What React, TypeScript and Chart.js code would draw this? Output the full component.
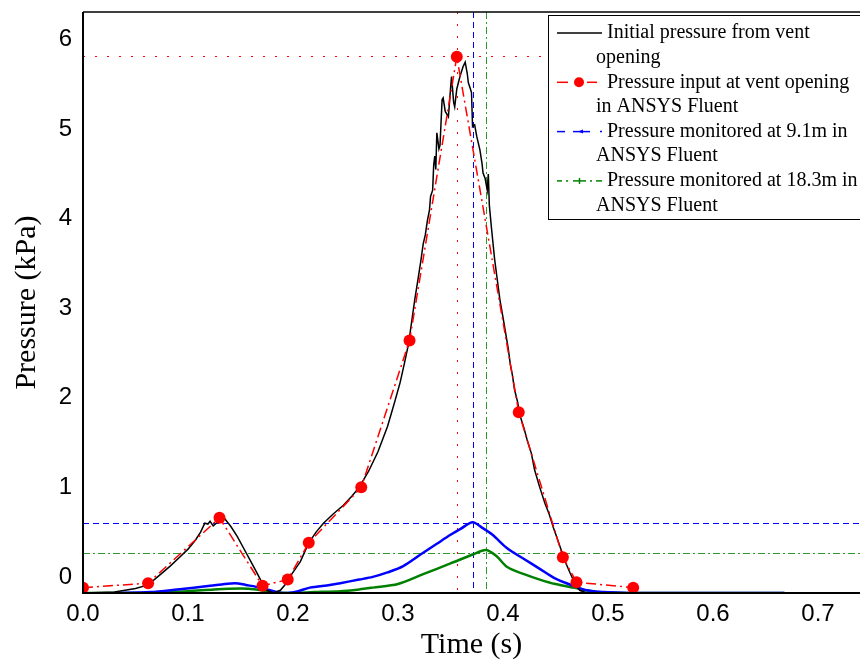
import React, { useEffect, useRef } from 'react';
import { Chart, registerables } from 'chart.js';
Chart.register(...registerables);

// ---- data (time in s, pressure in kPa) ----
const blackTime = [0.0, 0.03, 0.05, 0.062, 0.073, 0.083, 0.092, 0.1, 0.107, 0.112, 0.116, 0.119, 0.121, 0.124, 0.128, 0.135, 0.141, 0.147, 0.153, 0.159, 0.164, 0.169, 0.175, 0.181, 0.188, 0.193, 0.197, 0.207, 0.215, 0.222, 0.229, 0.238, 0.248, 0.256, 0.263, 0.272, 0.281, 0.29, 0.296, 0.302, 0.306, 0.31, 0.313, 0.316, 0.319, 0.322, 0.324, 0.326, 0.328, 0.33, 0.331, 0.333, 0.334, 0.335, 0.336, 0.337, 0.339, 0.34, 0.342, 0.343, 0.345, 0.348, 0.35, 0.351, 0.353, 0.354, 0.356, 0.359, 0.362, 0.364, 0.366, 0.367, 0.369, 0.37, 0.371, 0.373, 0.375, 0.378, 0.38, 0.381, 0.383, 0.385, 0.386, 0.387, 0.389, 0.392, 0.395, 0.397, 0.4, 0.402, 0.405, 0.407, 0.409, 0.411, 0.414, 0.416, 0.42, 0.423, 0.427, 0.43, 0.435, 0.44, 0.444, 0.448, 0.451, 0.456, 0.46, 0.464, 0.468, 0.473, 0.48, 0.5];
const blackPressure = [-0.18, -0.17, -0.13, -0.09, 0.02, 0.12, 0.22, 0.31, 0.41, 0.5, 0.6, 0.59, 0.62, 0.57, 0.61, 0.65, 0.56, 0.45, 0.32, 0.19, 0.08, -0.03, -0.15, -0.18, -0.15, -0.08, 0.0, 0.17, 0.38, 0.5, 0.6, 0.7, 0.8, 0.9, 1.0, 1.18, 1.4, 1.68, 1.92, 2.17, 2.38, 2.6, 2.85, 3.1, 3.32, 3.55, 3.72, 3.82, 3.98, 4.1, 4.25, 4.32, 4.6, 4.7, 4.55, 4.96, 4.78, 4.82, 5.33, 5.35, 5.2, 5.14, 5.45, 5.59, 5.3, 5.25, 5.45, 5.59, 5.7, 5.75, 5.62, 5.52, 5.45, 5.41, 5.03, 5.05, 4.92, 4.77, 4.62, 4.51, 4.45, 4.32, 4.5, 4.15, 3.9, 3.55, 3.28, 3.1, 2.9, 2.76, 2.55, 2.37, 2.25, 2.09, 1.95, 1.81, 1.66, 1.53, 1.38, 1.2, 1.0, 0.82, 0.7, 0.55, 0.45, 0.28, 0.15, 0.04, -0.06, -0.15, -0.18, -0.18];

const redTime = [0.0, 0.062, 0.13, 0.171, 0.195, 0.215, 0.265, 0.311, 0.356, 0.415, 0.457, 0.47, 0.524];
const redPressure = [-0.12, -0.07, 0.66, -0.1, -0.03, 0.38, 1.0, 2.64, 5.81, 1.84, 0.22, -0.06, -0.12];

const blueTime = [0.03, 0.064, 0.09, 0.121, 0.135, 0.145, 0.155, 0.169, 0.185, 0.195, 0.205, 0.216, 0.235, 0.245, 0.263, 0.276, 0.29, 0.305, 0.324, 0.337, 0.35, 0.36, 0.371, 0.38, 0.39, 0.404, 0.42, 0.435, 0.45, 0.467, 0.48, 0.495, 0.52, 0.6, 0.668];
const bluePressure = [-0.18, -0.17, -0.14, -0.1, -0.08, -0.07, -0.09, -0.12, -0.17, -0.18, -0.16, -0.12, -0.09, -0.07, -0.03, 0.0, 0.05, 0.12, 0.27, 0.37, 0.47, 0.54, 0.61, 0.55, 0.47, 0.32, 0.2, 0.09, -0.02, -0.1, -0.15, -0.17, -0.18, -0.18, -0.18];

const greenTime = [0.0, 0.05, 0.1, 0.125, 0.15, 0.165, 0.18, 0.195, 0.22, 0.245, 0.263, 0.276, 0.3, 0.324, 0.35, 0.371, 0.384, 0.394, 0.404, 0.42, 0.435, 0.45, 0.467, 0.49, 0.52, 0.6, 0.668];
const greenPressure = [-0.18, -0.18, -0.16, -0.14, -0.13, -0.14, -0.17, -0.18, -0.17, -0.16, -0.14, -0.12, -0.08, 0.03, 0.15, 0.25, 0.3, 0.23, 0.11, 0.03, -0.03, -0.08, -0.12, -0.17, -0.18, -0.18, -0.18];

// reference (cross-hair) lines: red, blue, green
const refLineTime = [0.356, 0.371, 0.384];
const refLinePressure = [5.82, 0.6, 0.27];

const xTicks = [0.0, 0.1, 0.2, 0.3, 0.4, 0.5, 0.6, 0.7];
const yTicks = [0, 1, 2, 3, 4, 5, 6];

const legendLabels = [
  ['Initial pressure from vent', 'opening'],
  ['Pressure input at vent opening', 'in ANSYS Fluent'],
  ['Pressure monitored at 9.1m in', 'ANSYS Fluent'],
  ['Pressure monitored at 18.3m in', 'ANSYS Fluent'],
];

const zip = (xs: number[], ys: number[]) => xs.map((x, i) => ({ x, y: ys[i] }));

const SANS = '"Liberation Sans", Arial, sans-serif';
const SERIF = '"Liberation Serif", "Times New Roman", serif';

const refLinesPlugin = {
  id: 'refLines',
  beforeDatasetsDraw(chart: any) {
    const { ctx, chartArea: a, scales } = chart;
    const xs = scales.x, ys = scales.y;
    const styles = [
      { color: '#ff0000', dash: [2, 10] },
      { color: '#0000ff', dash: [6, 4] },
      { color: '#2e9a2e', dash: [7, 3, 2, 3] },
    ];
    ctx.save();
    ctx.lineWidth = 1;
    styles.forEach((s, i) => {
      ctx.strokeStyle = s.color;
      ctx.setLineDash(s.dash);
      const px = Math.round(xs.getPixelForValue(refLineTime[i])) + 0.5;
      const py = Math.round(ys.getPixelForValue(refLinePressure[i])) + 0.5;
      ctx.beginPath();
      ctx.moveTo(px, a.top);
      ctx.lineTo(px, a.bottom);
      ctx.stroke();
      ctx.beginPath();
      ctx.moveTo(a.left, py);
      ctx.lineTo(a.right, py);
      ctx.stroke();
    });
    ctx.restore();
  },
};

const framePlugin = {
  id: 'frame',
  afterDatasetsDraw(chart: any) {
    const { ctx, chartArea: a } = chart;
    ctx.save();
    ctx.strokeStyle = '#000';
    ctx.setLineDash([]);
    ctx.lineWidth = 2;
    ctx.beginPath();
    ctx.moveTo(a.left, a.top);
    ctx.lineTo(a.left, a.bottom);
    ctx.lineTo(a.right, a.bottom);
    ctx.stroke();
    ctx.lineWidth = 1.5;
    ctx.beginPath();
    ctx.moveTo(a.left, a.top);
    ctx.lineTo(a.right, a.top);
    ctx.stroke();
    ctx.restore();
  },
};

const legendPlugin = {
  id: 'customLegend',
  afterDraw(chart: any) {
    const c = chart.ctx;
    c.save();
    const L = 548, T = 15, R = 862, B = 219;
    c.fillStyle = '#ffffff';
    c.fillRect(L, T, R - L, B - T);
    c.strokeStyle = '#000';
    c.lineWidth = 1;
    c.setLineDash([]);
    c.strokeRect(L + 0.5, T + 0.5, R - L, B - T);
    c.font = '20px ' + SERIF;
    c.textBaseline = 'middle';
    c.textAlign = 'left';
    const seg = (x1: number, x2: number, y: number) => {
      c.beginPath();
      c.moveTo(x1, y);
      c.lineTo(x2, y);
      c.stroke();
    };
    legendLabels.forEach((lines, i) => {
      const y = 33 + i * 49.3;
      c.fillStyle = '#000';
      c.fillText(lines[0], 607, y);
      c.fillText(lines[1], 596, y + 24.5);
      c.setLineDash([]);
      if (i === 0) {
        c.strokeStyle = '#000';
        c.lineWidth = 1.5;
        seg(557, 602, y);
      } else if (i === 1) {
        c.strokeStyle = '#ff0000';
        c.fillStyle = '#ff0000';
        c.lineWidth = 1.5;
        seg(557, 568, y);
        seg(587, 597, y);
        c.beginPath();
        c.arc(579, y, 5, 0, Math.PI * 2);
        c.fill();
      } else if (i === 2) {
        c.strokeStyle = '#0000ff';
        c.fillStyle = '#0000ff';
        c.lineWidth = 1.5;
        seg(557, 565, y);
        seg(573, 590, y);
        seg(600, 602, y);
        c.beginPath();
        c.moveTo(578, y);
        c.lineTo(583, y - 2);
        c.lineTo(583, y + 2);
        c.closePath();
        c.fill();
      } else {
        c.strokeStyle = '#008000';
        c.lineWidth = 1.5;
        seg(557, 562, y);
        seg(566, 568, y);
        seg(573, 586, y);
        seg(590, 592, y);
        seg(596, 602, y);
        c.beginPath();
        c.moveTo(579.5, y - 3);
        c.lineTo(579.5, y + 3);
        c.stroke();
      }
    });
    c.restore();
  },
};

export default function App() {
  const ref = useRef<HTMLCanvasElement>(null);
  useEffect(() => {
    document.body.style.margin = '0';
    const canvas = ref.current!;
    const chart = new Chart(canvas, {
      type: 'line',
      data: {
        datasets: [
          {
            label: 'Pressure input at vent opening in ANSYS Fluent',
            data: zip(redTime, redPressure),
            borderColor: '#ff0000',
            backgroundColor: '#ff0000',
            borderWidth: 1.5,
            borderDash: [10, 4, 2, 4],
            pointRadius: 6,
            pointBorderWidth: 0,
            pointBackgroundColor: '#ff0000',
            tension: 0,
            order: 0,
          },
          {
            label: 'Initial pressure from vent opening',
            data: zip(blackTime, blackPressure),
            borderColor: '#000000',
            borderWidth: 1.5,
            pointRadius: 0,
            tension: 0,
            order: 1,
          },
          {
            label: 'Pressure monitored at 9.1m in ANSYS Fluent',
            data: zip(blueTime, bluePressure),
            borderColor: '#0000ff',
            borderWidth: 2.5,
            pointRadius: 0,
            tension: 0.3,
            order: 2,
          },
          {
            label: 'Pressure monitored at 18.3m in ANSYS Fluent',
            data: zip(greenTime, greenPressure),
            borderColor: '#008000',
            borderWidth: 2.5,
            pointRadius: 0,
            tension: 0.3,
            order: 3,
          },
        ],
      },
      options: {
        responsive: false,
        animation: false,
        layout: { autoPadding: false, padding: { left: 0, top: 12, right: 0, bottom: 0 } },
        plugins: { legend: { display: false }, tooltip: { enabled: false } },
        scales: {
          x: {
            type: 'linear',
            min: 0,
            max: 0.74,
            grid: { display: false, drawTicks: false },
            border: { display: false },
            afterFit: (s: any) => { s.height = 71; s.paddingRight = 0; s.paddingLeft = 0; },
            afterBuildTicks: (s: any) => { s.ticks = xTicks.map((v) => ({ value: v })); },
            ticks: {
              padding: 7,
              color: '#000',
              font: { family: SANS, size: 24 },
              maxRotation: 0,
              callback: (v: any) => Number(v).toFixed(1),
            },
            title: {
              display: true,
              text: 'Time (s)',
              color: '#000',
              font: { family: SERIF, size: 30 },
              padding: { top: 0, bottom: 1 },
            },
          },
          y: {
            type: 'linear',
            min: -0.18,
            max: 6.31,
            grid: { display: false, drawTicks: false },
            border: { display: false },
            afterFit: (s: any) => { s.width = 83; s.paddingTop = 0; s.paddingBottom = 0; },
            afterBuildTicks: (s: any) => { s.ticks = yTicks.map((v) => ({ value: v })); },
            ticks: {
              padding: 11,
              color: '#000',
              font: { family: SANS, size: 24 },
              callback: (v: any) => String(v),
            },
            title: {
              display: true,
              text: 'Pressure (kPa)',
              color: '#000',
              font: { family: SERIF, size: 30 },
              padding: { top: 9, bottom: 0 },
            },
          },
        },
      },
      plugins: [refLinesPlugin, framePlugin, legendPlugin],
    });
    return () => chart.destroy();
  }, []);
  return (
    <div style={{ position: 'absolute', left: 0, top: 0, width: 860, height: 664, background: '#fff' }}>
      <canvas ref={ref} width={860} height={664} style={{ display: 'block' }} />
    </div>
  );
}
